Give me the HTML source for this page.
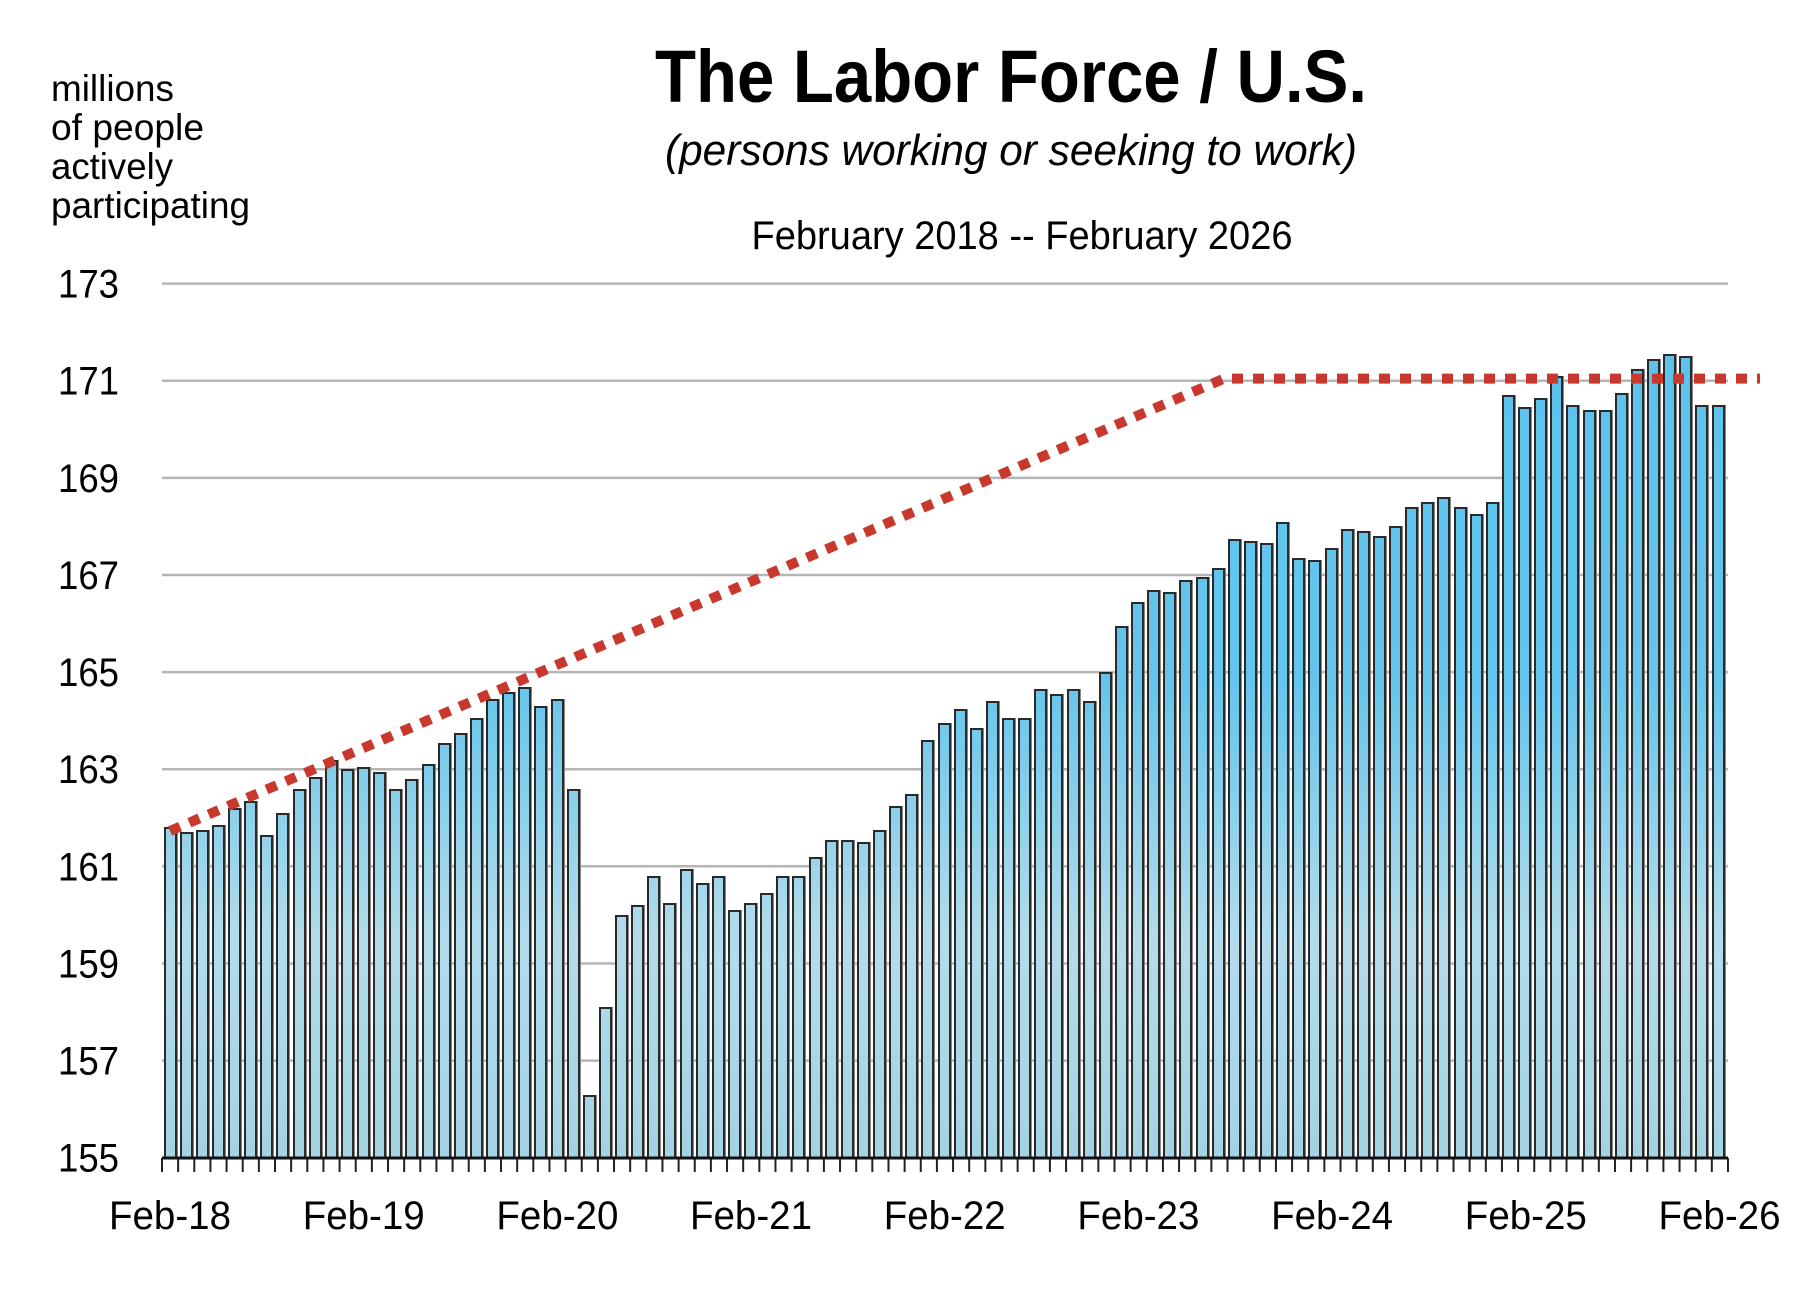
<!DOCTYPE html>
<html><head><meta charset="utf-8"><style>
html,body{margin:0;padding:0;background:#fff}
.wrap{position:relative;width:1806px;height:1298px;overflow:hidden}
svg{position:absolute;left:0;top:0}
#bars{position:absolute;left:162px;top:257.7px;width:1566px;height:900px;display:flex;align-items:flex-end}
#bars div{flex:0 0 13px;margin:0 1.57px;box-sizing:border-box;border:2px solid #2a2a2a;border-bottom:none;box-shadow:1px 0 0 #888;
background:linear-gradient(#5cc3ec 0%,#64c4eb 45%,#b3dcea 75%,#a3d3e4 100%) bottom/100% 874px no-repeat}
</style></head>
<body><div class="wrap">
<svg width="1806" height="1298" viewBox="0 0 1806 1298" xmlns="http://www.w3.org/2000/svg" font-family="'Liberation Sans Narrow','Liberation Sans',sans-serif">
<text x="1011" y="102" font-size="74" font-weight="bold" text-anchor="middle" textLength="712" lengthAdjust="spacingAndGlyphs">The Labor Force / U.S.</text>
<text x="1011" y="165" font-size="44" font-style="italic" text-anchor="middle" textLength="692" lengthAdjust="spacingAndGlyphs">(persons working or seeking to work)</text>
<text x="1022" y="249" font-size="40" text-anchor="middle" textLength="541" lengthAdjust="spacingAndGlyphs">February 2018 -- February 2026</text>
<g font-size="37">
<text x="51" y="101" textLength="123" lengthAdjust="spacingAndGlyphs">millions</text>
<text x="51" y="140" textLength="153" lengthAdjust="spacingAndGlyphs">of people</text>
<text x="51" y="179" textLength="122" lengthAdjust="spacingAndGlyphs">actively</text>
<text x="51" y="218" textLength="199" lengthAdjust="spacingAndGlyphs">participating</text>
</g>
<g stroke="#b5b5b5" stroke-width="2.5">
<line x1="162" x2="1728" y1="1060.6" y2="1060.6"/>
<line x1="162" x2="1728" y1="963.5" y2="963.5"/>
<line x1="162" x2="1728" y1="866.3" y2="866.3"/>
<line x1="162" x2="1728" y1="769.2" y2="769.2"/>
<line x1="162" x2="1728" y1="672.1" y2="672.1"/>
<line x1="162" x2="1728" y1="575.0" y2="575.0"/>
<line x1="162" x2="1728" y1="477.9" y2="477.9"/>
<line x1="162" x2="1728" y1="380.7" y2="380.7"/>
<line x1="162" x2="1728" y1="283.6" y2="283.6"/>
</g>
<g font-size="40" text-anchor="end">
<text x="119" y="1171.7" textLength="61" lengthAdjust="spacingAndGlyphs">155</text>
<text x="119" y="1074.6" textLength="61" lengthAdjust="spacingAndGlyphs">157</text>
<text x="119" y="977.5" textLength="61" lengthAdjust="spacingAndGlyphs">159</text>
<text x="119" y="880.3" textLength="61" lengthAdjust="spacingAndGlyphs">161</text>
<text x="119" y="783.2" textLength="61" lengthAdjust="spacingAndGlyphs">163</text>
<text x="119" y="686.1" textLength="61" lengthAdjust="spacingAndGlyphs">165</text>
<text x="119" y="589.0" textLength="61" lengthAdjust="spacingAndGlyphs">167</text>
<text x="119" y="491.9" textLength="61" lengthAdjust="spacingAndGlyphs">169</text>
<text x="119" y="394.7" textLength="61" lengthAdjust="spacingAndGlyphs">171</text>
<text x="119" y="297.6" textLength="61" lengthAdjust="spacingAndGlyphs">173</text>
</g>
<g font-size="40" text-anchor="middle">
<text x="170" y="1229" textLength="122" lengthAdjust="spacingAndGlyphs">Feb-18</text>
<text x="363.7" y="1229" textLength="122" lengthAdjust="spacingAndGlyphs">Feb-19</text>
<text x="557.4" y="1229" textLength="122" lengthAdjust="spacingAndGlyphs">Feb-20</text>
<text x="751.0" y="1229" textLength="122" lengthAdjust="spacingAndGlyphs">Feb-21</text>
<text x="944.7" y="1229" textLength="122" lengthAdjust="spacingAndGlyphs">Feb-22</text>
<text x="1138.4" y="1229" textLength="122" lengthAdjust="spacingAndGlyphs">Feb-23</text>
<text x="1332.1" y="1229" textLength="122" lengthAdjust="spacingAndGlyphs">Feb-24</text>
<text x="1525.8" y="1229" textLength="122" lengthAdjust="spacingAndGlyphs">Feb-25</text>
<text x="1719.5" y="1229" textLength="122" lengthAdjust="spacingAndGlyphs">Feb-26</text>
</g>
<line x1="161" x2="1730" y1="1165" y2="1165" stroke="#222" stroke-width="14" stroke-dasharray="2 14.144"/>
</svg>
<div id="bars">
<div style="height:calc(6.8 * 48.56px)"></div><div style="height:calc(6.7 * 48.56px)"></div><div style="height:calc(6.75 * 48.56px)"></div><div style="height:calc(6.85 * 48.56px)"></div><div style="height:calc(7.2 * 48.56px)"></div><div style="height:calc(7.35 * 48.56px)"></div><div style="height:calc(6.65 * 48.56px)"></div><div style="height:calc(7.1 * 48.56px)"></div><div style="height:calc(7.6 * 48.56px)"></div><div style="height:calc(7.85 * 48.56px)"></div><div style="height:calc(8.2 * 48.56px)"></div><div style="height:calc(8.0 * 48.56px)"></div>
<div style="height:calc(8.05 * 48.56px)"></div><div style="height:calc(7.95 * 48.56px)"></div><div style="height:calc(7.6 * 48.56px)"></div><div style="height:calc(7.8 * 48.56px)"></div><div style="height:calc(8.1 * 48.56px)"></div><div style="height:calc(8.55 * 48.56px)"></div><div style="height:calc(8.75 * 48.56px)"></div><div style="height:calc(9.05 * 48.56px)"></div><div style="height:calc(9.45 * 48.56px)"></div><div style="height:calc(9.6 * 48.56px)"></div><div style="height:calc(9.7 * 48.56px)"></div><div style="height:calc(9.3 * 48.56px)"></div>
<div style="height:calc(9.45 * 48.56px)"></div><div style="height:calc(7.6 * 48.56px)"></div><div style="height:calc(1.3 * 48.56px)"></div><div style="height:calc(3.1 * 48.56px)"></div><div style="height:calc(5.0 * 48.56px)"></div><div style="height:calc(5.2 * 48.56px)"></div><div style="height:calc(5.8 * 48.56px)"></div><div style="height:calc(5.25 * 48.56px)"></div><div style="height:calc(5.95 * 48.56px)"></div><div style="height:calc(5.65 * 48.56px)"></div><div style="height:calc(5.8 * 48.56px)"></div><div style="height:calc(5.1 * 48.56px)"></div>
<div style="height:calc(5.25 * 48.56px)"></div><div style="height:calc(5.45 * 48.56px)"></div><div style="height:calc(5.8 * 48.56px)"></div><div style="height:calc(5.8 * 48.56px)"></div><div style="height:calc(6.2 * 48.56px)"></div><div style="height:calc(6.55 * 48.56px)"></div><div style="height:calc(6.55 * 48.56px)"></div><div style="height:calc(6.5 * 48.56px)"></div><div style="height:calc(6.75 * 48.56px)"></div><div style="height:calc(7.25 * 48.56px)"></div><div style="height:calc(7.5 * 48.56px)"></div><div style="height:calc(8.6 * 48.56px)"></div>
<div style="height:calc(8.95 * 48.56px)"></div><div style="height:calc(9.25 * 48.56px)"></div><div style="height:calc(8.85 * 48.56px)"></div><div style="height:calc(9.4 * 48.56px)"></div><div style="height:calc(9.05 * 48.56px)"></div><div style="height:calc(9.05 * 48.56px)"></div><div style="height:calc(9.65 * 48.56px)"></div><div style="height:calc(9.55 * 48.56px)"></div><div style="height:calc(9.65 * 48.56px)"></div><div style="height:calc(9.4 * 48.56px)"></div><div style="height:calc(10.0 * 48.56px)"></div><div style="height:calc(10.95 * 48.56px)"></div>
<div style="height:calc(11.45 * 48.56px)"></div><div style="height:calc(11.7 * 48.56px)"></div><div style="height:calc(11.65 * 48.56px)"></div><div style="height:calc(11.9 * 48.56px)"></div><div style="height:calc(11.95 * 48.56px)"></div><div style="height:calc(12.15 * 48.56px)"></div><div style="height:calc(12.75 * 48.56px)"></div><div style="height:calc(12.7 * 48.56px)"></div><div style="height:calc(12.65 * 48.56px)"></div><div style="height:calc(13.1 * 48.56px)"></div><div style="height:calc(12.35 * 48.56px)"></div><div style="height:calc(12.3 * 48.56px)"></div>
<div style="height:calc(12.55 * 48.56px)"></div><div style="height:calc(12.95 * 48.56px)"></div><div style="height:calc(12.9 * 48.56px)"></div><div style="height:calc(12.8 * 48.56px)"></div><div style="height:calc(13.0 * 48.56px)"></div><div style="height:calc(13.4 * 48.56px)"></div><div style="height:calc(13.5 * 48.56px)"></div><div style="height:calc(13.6 * 48.56px)"></div><div style="height:calc(13.4 * 48.56px)"></div><div style="height:calc(13.25 * 48.56px)"></div><div style="height:calc(13.5 * 48.56px)"></div><div style="height:calc(15.7 * 48.56px)"></div>
<div style="height:calc(15.45 * 48.56px)"></div><div style="height:calc(15.65 * 48.56px)"></div><div style="height:calc(16.1 * 48.56px)"></div><div style="height:calc(15.5 * 48.56px)"></div><div style="height:calc(15.4 * 48.56px)"></div><div style="height:calc(15.4 * 48.56px)"></div><div style="height:calc(15.75 * 48.56px)"></div><div style="height:calc(16.25 * 48.56px)"></div><div style="height:calc(16.45 * 48.56px)"></div><div style="height:calc(16.55 * 48.56px)"></div><div style="height:calc(16.5 * 48.56px)"></div><div style="height:calc(15.5 * 48.56px)"></div><div style="height:calc(15.5 * 48.56px)"></div>
</div>
<svg width="1806" height="1298" viewBox="0 0 1806 1298" xmlns="http://www.w3.org/2000/svg">
<line x1="162" x2="1728" y1="1158" y2="1158" stroke="#111" stroke-width="3"/>
<polyline points="170,831 1224,378.6 1760,378.6" fill="none" stroke="#c9382c" stroke-width="10" stroke-dasharray="11 10"/>
</svg>
</div></body></html>
